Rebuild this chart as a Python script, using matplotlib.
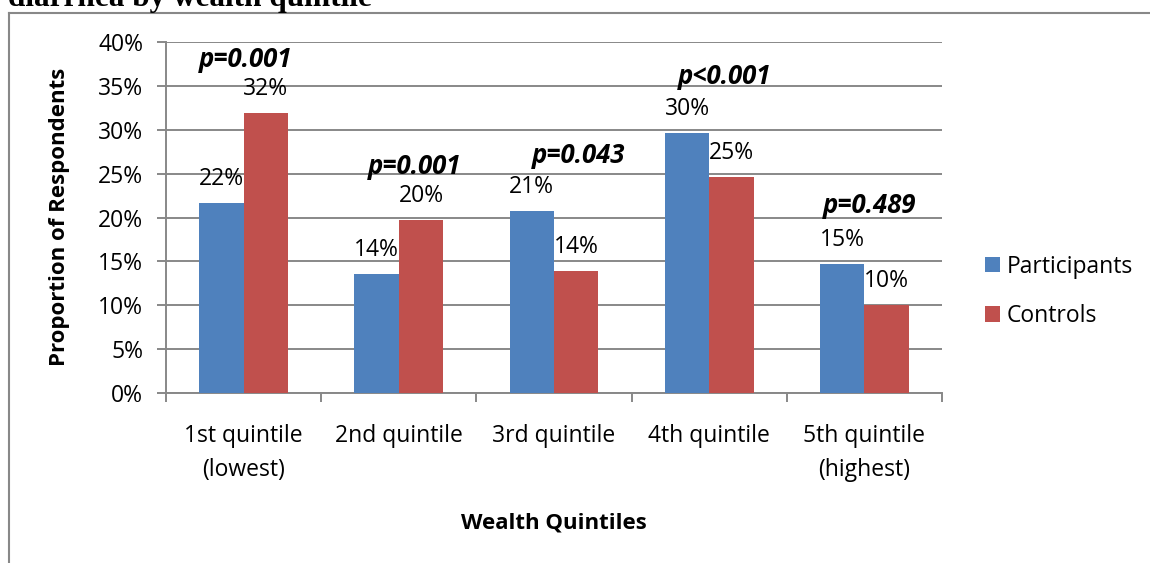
import numpy as np
import matplotlib
matplotlib.use("Agg")
import matplotlib.pyplot as plt
from matplotlib.lines import Line2D

plt.rcParams['font.family'] = ['Open Sans', 'DejaVu Sans']

# data
quintiles = ["1st quintile\n(lowest)", "2nd quintile", "3rd quintile", "4th quintile", "5th quintile\n(highest)"]
participants = [21.6, 13.6, 20.7, 29.6, 14.7]
controls = [31.9, 19.7, 13.9, 24.6, 10.0]
p_labels = ["p=0.001", "p=0.001", "p=0.043", "p<0.001", "p=0.489"]
p_y = [37.1, 24.9, 26.2, 35.2, 20.5]
p_dx = [0.01, 0.10, 0.16, 0.10, 0.03]

blue = "#4F81BD"
red = "#C0504D"
grey = "#888888"
fs = 16.5

fig = plt.figure(figsize=(11.5, 5.63), dpi=100)
ax = fig.add_axes([166 / 1150, 1 - 393.3 / 563, 776 / 1150, (393.3 - 41.8) / 563])

x = np.arange(len(quintiles))
w = 1 / 3.5
b1 = ax.bar(x - w / 2, participants, w, color=blue, label="Participants", zorder=3)
b2 = ax.bar(x + w / 2, controls, w, color=red, label="Controls", zorder=3)

for bars, vals in ((b1, participants), (b2, controls)):
    for rect, v in zip(bars, vals):
        ax.annotate(f"{v:.0f}%", (rect.get_x() + rect.get_width() / 2, v),
                    xytext=(0, 18), textcoords="offset pixels",
                    ha="center", va="baseline", fontsize=fs, zorder=4)

for i, (lab, yy, dx) in enumerate(zip(p_labels, p_y, p_dx)):
    ax.text(i + dx, yy, lab, ha="center", va="baseline", fontsize=18.5,
            fontweight="bold", style="italic", zorder=4)

ax.set_xlim(-0.5, len(quintiles) - 0.5)
ax.set_ylim(0, 40)
ax.set_yticks(np.arange(0, 41, 5))
ax.set_yticklabels([f"{t}%" for t in range(0, 41, 5)], fontsize=fs)
ax.yaxis.grid(True, color=grey, lw=1.4, zorder=0)
ax.set_axisbelow(True)

ax.set_xticks(np.arange(-0.5, len(quintiles)), labels=[""] * (len(quintiles) + 1))
ax.set_xticks(x, labels=quintiles, minor=True)
ax.tick_params(axis="x", which="minor", length=0, pad=22, labelsize=fs)
for t in ax.get_xticklabels(minor=True):
    t.set_linespacing(1.55)
ax.tick_params(axis="x", which="major", length=6.5, width=1.4, color=grey)
ax.tick_params(axis="y", length=6.5, width=1.4, color=grey, pad=10)

for s in ("top", "right"):
    ax.spines[s].set_visible(False)
for s in ("left", "bottom"):
    ax.spines[s].set_color(grey)
    ax.spines[s].set_linewidth(1.4)

fig.text(60 / 1150, 1 - 217 / 563, "Proportion of Respondents", rotation=90,
         ha="center", va="center", fontsize=16, fontweight="bold")
fig.text(554 / 1150, 1 - 523 / 563, "Wealth Quintiles", ha="center", va="center",
         fontsize=16, fontweight="bold")

fig.legend(handles=[b1, b2], loc="center left", bbox_to_anchor=(985 / 1150, 1 - 291.5 / 563),
           frameon=False, borderpad=0, borderaxespad=0, handlelength=0.65, handleheight=0.65,
           handletextpad=0.3, labelspacing=1.1, fontsize=fs)

# frame around the chart and the clipped heading above it
fig.add_artist(Line2D([9 / 1150, 1], [1 - 13 / 563] * 2, color=grey, lw=1.5))
fig.add_artist(Line2D([9 / 1150] * 2, [0, 1 - 13 / 563], color=grey, lw=1.5))
fig.text(8 / 1150, 1 - 6 / 563, "diarrhea by wealth quintile", family="Liberation Serif",
         fontweight="bold", fontsize=22.5, ha="left", va="baseline")

fig.savefig("out.png", dpi=100)
